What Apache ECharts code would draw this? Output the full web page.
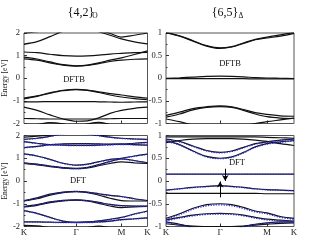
<!DOCTYPE html>
<html><head><meta charset="utf-8">
<script src="https://cdn.jsdelivr.net/npm/echarts@6/dist/echarts.min.js"></script>
<style>html,body{margin:0;padding:0;background:#fff}#c{width:316px;height:240px}</style>
</head><body><div id="c"></div>
<script>
// k-path K - Gamma - M - K (fractional path length)
const kPts = [0, 0.1057, 0.2113, 0.317, 0.4226, 0.5141, 0.6056, 0.6972, 0.7887, 0.8943, 1];
const kTickVals = [0, 0.4226, 0.7887, 1];
const kTickNames = ['K', 'Γ', 'M', 'K'];
const yTicksLeft = [-2, -1, 0, 1, 2];
const yTicksRight = [-1, -0.5, 0, 0.5, 1];

// {4,2}_O DFTB bands (eV)
const dftb42 = [
  [2.00, 2.06, 2.15, 2.25, 2.30, 2.25, 2.12, 1.98, 1.82, 1.90, 2.00],
  [1.51, 1.62, 1.84, 2.08, 2.20, 2.18, 2.06, 1.90, 1.74, 1.61, 1.52],
  [1.16, 1.13, 1.06, 1.00, 0.98, 0.99, 1.02, 1.07, 1.10, 1.13, 1.14],
  [0.93, 0.85, 0.72, 0.60, 0.55, 0.58, 0.68, 0.80, 0.90, 1.05, 1.21],
  [0.86, 0.80, 0.68, 0.58, 0.54, 0.57, 0.65, 0.74, 0.80, 0.84, 0.86],
  [-0.88, -0.78, -0.64, -0.53, -0.49, -0.52, -0.60, -0.68, -0.74, -0.82, -0.88],
  [-0.91, -0.80, -0.66, -0.55, -0.50, -0.54, -0.63, -0.74, -0.83, -0.90, -0.95],
  [-1.04, -1.04, -1.03, -1.03, -1.03, -1.03, -1.04, -1.05, -1.06, -1.05, -1.04],
  [-1.28, -1.42, -1.62, -1.80, -1.90, -1.88, -1.75, -1.55, -1.42, -1.33, -1.28],
  [-1.78, -1.79, -1.80, -1.80, -1.80, -1.80, -1.80, -1.79, -1.78, -1.78, -1.78],
  [-2.15, -2.05, -1.96, -2.02, -2.15, -2.02, -1.95, -2.05, -2.15, -2.15, -2.15]
];
// {6,5}_Delta DFTB bands (eV)
const dftb65 = [
  [1.00, 0.93, 0.82, 0.71, 0.66, 0.69, 0.77, 0.85, 0.89, 0.93, 0.99],
  [1.01, 0.94, 0.83, 0.72, 0.67, 0.70, 0.78, 0.86, 0.91, 0.96, 1.01],
  [0.00, 0.01, 0.025, 0.04, 0.045, 0.04, 0.03, 0.015, 0.005, 0.00, -0.005],
  [-0.01, -0.01, -0.01, -0.01, -0.01, -0.01, -0.01, -0.015, -0.015, -0.015, -0.015],
  [-0.82, -0.75, -0.67, -0.63, -0.61, -0.63, -0.69, -0.76, -0.80, -0.83, -0.84],
  [-0.86, -0.79, -0.70, -0.645, -0.625, -0.645, -0.71, -0.79, -0.85, -0.88, -0.89],
  [-0.90, -0.96, -1.04, -1.12, -1.15, -1.12, -1.06, -1.00, -0.96, -0.92, -0.88]
];
// {4,2}_O DFT bands, black solid
const dft42 = [
  [1.93, 1.97, 2.02, 2.08, 2.12, 2.08, 2.00, 2.05, 2.10, 2.08, 2.05],
  [1.83, 1.88, 1.97, 2.08, 2.12, 2.08, 2.00, 1.93, 1.88, 1.85, 1.83],
  [1.73, 1.66, 1.60, 1.58, 1.57, 1.57, 1.58, 1.60, 1.62, 1.60, 1.58],
  [1.47, 1.52, 1.60, 1.63, 1.64, 1.64, 1.63, 1.62, 1.62, 1.66, 1.70],
  [1.19, 1.10, 0.95, 0.78, 0.70, 0.74, 0.85, 0.95, 1.00, 1.10, 1.18],
  [0.80, 0.74, 0.66, 0.59, 0.56, 0.60, 0.72, 0.86, 0.97, 0.90, 0.80],
  [0.77, 0.71, 0.63, 0.57, 0.54, 0.58, 0.67, 0.77, 0.84, 0.80, 0.77],
  [-0.86, -0.74, -0.58, -0.49, -0.46, -0.49, -0.56, -0.63, -0.68, -0.78, -0.86],
  [-0.88, -0.78, -0.62, -0.51, -0.47, -0.51, -0.62, -0.76, -0.86, -0.88, -0.88],
  [-1.12, -1.04, -0.92, -0.85, -0.83, -0.86, -0.94, -1.03, -1.08, -1.10, -1.10],
  [-1.14, -1.07, -0.95, -0.87, -0.84, -0.88, -0.98, -1.10, -1.17, -1.14, -1.12],
  [-1.30, -1.42, -1.60, -1.76, -1.82, -1.80, -1.75, -1.68, -1.60, -1.45, -1.32],
  [-1.80, -1.80, -1.81, -1.82, -1.82, -1.82, -1.80, -1.76, -1.70, -1.66, -1.62],
  [-1.95, -1.97, -2.05, -2.10, -2.15, -2.05, -1.98, -2.05, -2.12, -2.10, -2.08]
];
// {4,2}_O DFT bands, blue dotted
const dft42Blue = [
  [1.82, 1.87, 1.96, 2.07, 2.11, 2.07, 1.99, 1.92, 1.87, 1.84, 1.82],
  [1.72, 1.65, 1.59, 1.565, 1.555, 1.555, 1.565, 1.585, 1.605, 1.59, 1.57],
  [1.46, 1.51, 1.59, 1.62, 1.63, 1.63, 1.62, 1.61, 1.61, 1.65, 1.69],
  [1.18, 1.09, 0.94, 0.77, 0.69, 0.73, 0.84, 0.94, 0.99, 1.09, 1.17],
  [0.79, 0.73, 0.65, 0.58, 0.545, 0.585, 0.705, 0.85, 0.96, 0.89, 0.79],
  [-0.87, -0.75, -0.59, -0.50, -0.47, -0.50, -0.57, -0.64, -0.69, -0.79, -0.87],
  [-1.13, -1.05, -0.93, -0.86, -0.84, -0.87, -0.95, -1.04, -1.09, -1.11, -1.11],
  [-1.31, -1.43, -1.61, -1.77, -1.83, -1.81, -1.76, -1.69, -1.61, -1.46, -1.33],
  [-1.81, -1.81, -1.82, -1.83, -1.83, -1.83, -1.81, -1.77, -1.71, -1.67, -1.63]
];
// {6,5}_Delta DFT bands, black solid
const dft65 = [
  [0.97, 0.97, 0.97, 0.97, 0.97, 0.97, 0.97, 0.97, 0.96, 0.95, 0.94],
  [0.92, 0.87, 0.77, 0.67, 0.63, 0.66, 0.74, 0.82, 0.86, 0.90, 0.92],
  [0.88, 0.80, 0.66, 0.54, 0.50, 0.53, 0.63, 0.75, 0.82, 0.86, 0.89],
  [0.84, 0.89, 0.92, 0.93, 0.93, 0.93, 0.92, 0.90, 0.87, 0.82, 0.78],
  [0.15, 0.15, 0.15, 0.15, 0.15, 0.15, 0.15, 0.15, 0.15, 0.15, 0.15],
  [-0.20, -0.17, -0.14, -0.12, -0.10, -0.12, -0.14, -0.17, -0.19, -0.20, -0.21],
  [-0.27, -0.27, -0.27, -0.27, -0.27, -0.27, -0.27, -0.27, -0.28, -0.28, -0.28],
  [-0.82, -0.72, -0.60, -0.52, -0.50, -0.52, -0.58, -0.66, -0.70, -0.78, -0.82],
  [-0.86, -0.80, -0.75, -0.72, -0.71, -0.72, -0.75, -0.80, -0.84, -0.86, -0.88],
  [-0.90, -0.95, -1.02, -1.06, -1.08, -1.06, -1.00, -0.95, -0.92, -0.90, -0.90],
  [-0.94, -0.97, -0.99, -1.00, -1.00, -1.00, -0.99, -0.97, -0.95, -0.93, -0.92]
];
// {6,5}_Delta DFT bands, blue dotted
const dft65Blue = [
  [0.91, 0.86, 0.76, 0.66, 0.62, 0.65, 0.73, 0.81, 0.85, 0.89, 0.91],
  [0.87, 0.79, 0.65, 0.53, 0.49, 0.52, 0.62, 0.74, 0.81, 0.85, 0.88],
  [0.145, 0.145, 0.145, 0.145, 0.145, 0.145, 0.145, 0.145, 0.145, 0.145, 0.145],
  [-0.205, -0.175, -0.145, -0.125, -0.105, -0.125, -0.145, -0.175, -0.195, -0.205, -0.215],
  [-0.84, -0.74, -0.62, -0.545, -0.525, -0.545, -0.605, -0.68, -0.72, -0.80, -0.84],
  [-0.875, -0.815, -0.765, -0.735, -0.725, -0.735, -0.765, -0.815, -0.855, -0.875, -0.895],
  [-0.91, -0.965, -1.03, -1.07, -1.09, -1.07, -1.01, -0.96, -0.93, -0.91, -0.91]
];
// arrows in {6,5} DFT panel: [k, from, to]
const arrows = [[0.463, 0.27, 0.0], [0.4226, -0.36, -0.01]];

const SERIF = '"Liberation Serif", "DejaVu Serif", serif';
const grids = [
  {left: 19, top: 33, width: 128.5, height: 90.5},
  {left: 166, top: 33, width: 128, height: 90.5},
  {left: 19, top: 135.5, width: 128.5, height: 91},
  {left: 166, top: 135.5, width: 128, height: 91}
].map(g => Object.assign(g, {show: true, borderColor: '#555', borderWidth: 1, backgroundColor: 'transparent'}));

function xAx(i, showLabels) {
  return {
    type: 'value', gridIndex: i, min: 0, max: 1, position: 'bottom',
    axisLine: {show: false, onZero: false}, splitLine: {show: false},
    axisTick: {show: true, inside: true, length: 3, customValues: [0.4226, 0.7887], lineStyle: {color: '#333'}},
    axisLabel: {show: showLabels, customValues: kTickVals, margin: 2,
      formatter: v => { const j = kTickVals.findIndex(t => Math.abs(t - v) < 1e-6); return j >= 0 ? kTickNames[j] : ''; },
      fontFamily: SERIF, fontSize: 9, color: '#222'}
  };
}
function yAx(i, left) {
  const ticks = left ? yTicksLeft : yTicksRight;
  return {
    type: 'value', gridIndex: i, min: ticks[0], max: ticks[ticks.length - 1], interval: ticks[1] - ticks[0],
    axisLine: {show: false, onZero: false}, splitLine: {show: false},
    axisTick: {show: true, inside: true, length: 3, lineStyle: {color: '#333'}},
    minorTick: {show: true, splitNumber: 2, length: 1.5, lineStyle: {color: '#333'}},
    axisLabel: {fontFamily: SERIF, fontSize: 8.5, color: '#222', margin: 4, showMinLabel: true, showMaxLabel: true},
    name: left ? 'Energy [eV]' : '', nameLocation: 'middle', nameRotate: 90, nameGap: 12,
    nameTextStyle: {fontFamily: SERIF, fontSize: 7.5, color: '#222'}
  };
}

const series = [];
function addBands(bands, idx, color, type, width) {
  bands.forEach(b => series.push({
    type: 'line', xAxisIndex: idx, yAxisIndex: idx, showSymbol: false, symbol: 'none',
    smooth: 0.35, silent: true, animation: false, clip: true,
    data: kPts.map((k, j) => [k, b[j]]),
    lineStyle: {color: color, width: width, type: type}
  }));
}
addBands(dftb42, 0, '#111', 'solid', 1.2);
addBands(dftb65, 1, '#111', 'solid', 1.2);
addBands(dft42, 2, '#111', 'solid', 1.2);
addBands(dft42Blue, 2, '#2a2ad8', 'dotted', 1.3);
addBands(dft65, 3, '#111', 'solid', 1.2);
addBands(dft65Blue, 3, '#2a2ad8', 'dotted', 1.3);
series.push({
  type: 'line', xAxisIndex: 3, yAxisIndex: 3, data: [], silent: true, animation: false,
  markLine: {
    silent: true, animation: false, symbol: ['none', 'arrow'], symbolSize: [5, 6],
    label: {show: false}, lineStyle: {color: '#000', width: 1, type: 'solid'},
    data: arrows.map(a => [{coord: [a[0], a[1]]}, {coord: [a[0], a[2]]}])
  }
});

const txt = (x, y, s, size, align) => ({type: 'text', x: x, y: y, style: {text: s, fontFamily: SERIF, fontSize: size, fill: '#111', align: align || 'center', verticalAlign: 'middle'}});

const chart = echarts.init(document.getElementById('c'), null, {renderer: 'canvas'});
chart.setOption({
  animation: false,
  grid: grids,
  xAxis: [xAx(0, false), xAx(1, false), xAx(2, true), xAx(3, true)],
  yAxis: [yAx(0, true), yAx(1, false), yAx(2, true), yAx(3, false)],
  series: series,
  graphic: [
    txt(81, 13, '{4,2}', 12),
    txt(95, 16.5, 'O', 7.5),
    txt(225, 13, '{6,5}', 12),
    txt(241, 16.5, 'Δ', 7.5),
    txt(74, 80, 'DFTB', 8.5),
    txt(230, 63.5, 'DFTB', 8.5),
    txt(78, 181, 'DFT', 8.5),
    txt(237, 163, 'DFT', 8.5)
  ]
});
</script></body></html>
